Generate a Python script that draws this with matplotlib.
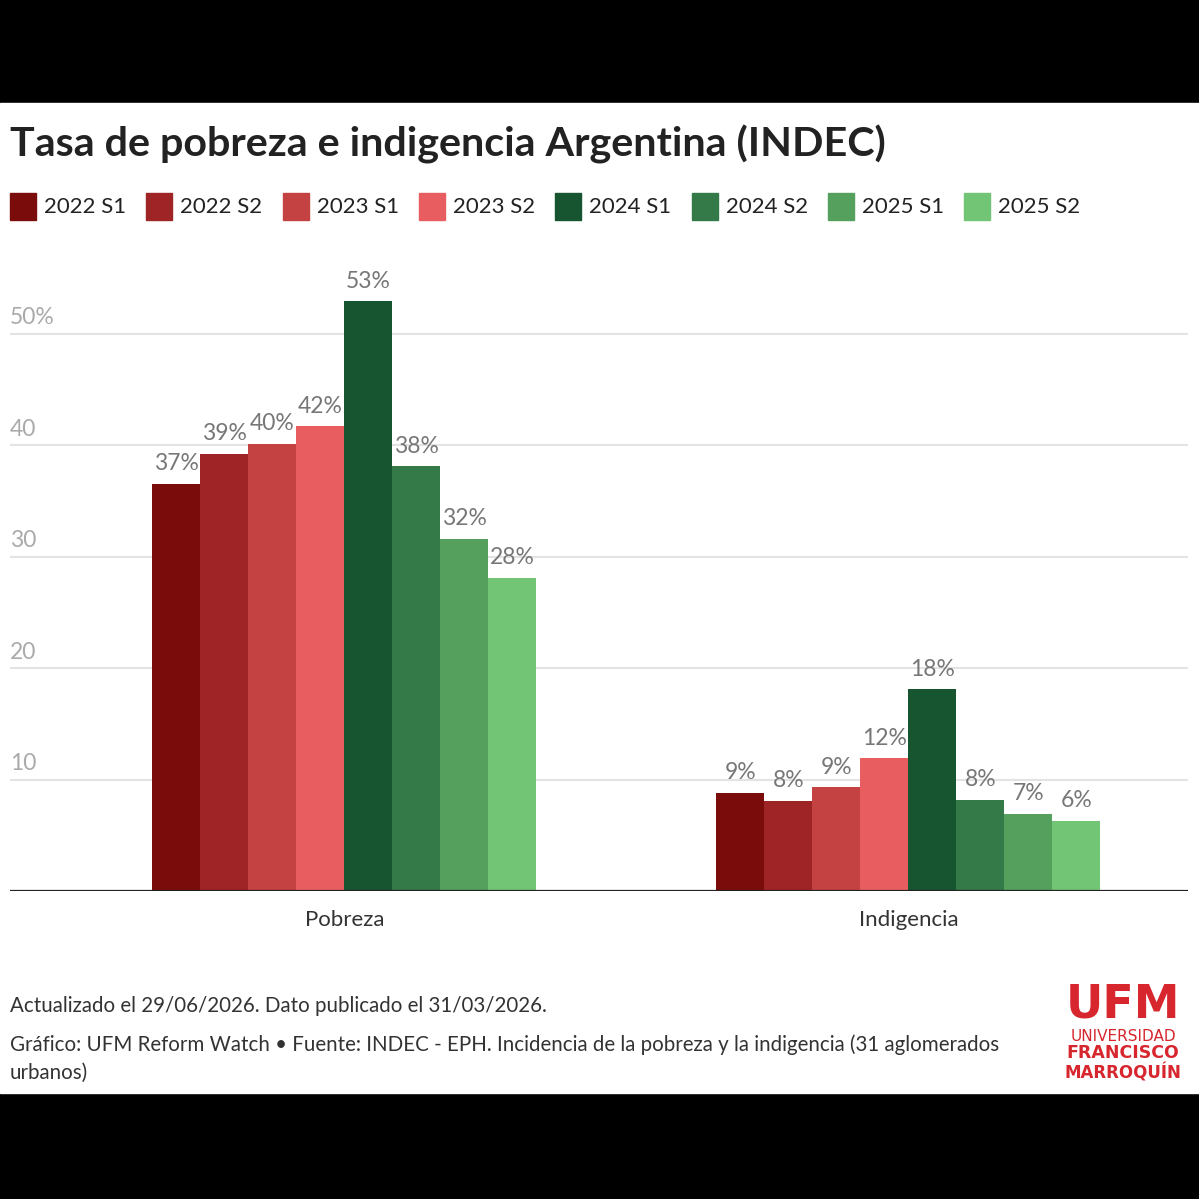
import math
import numpy as np
import matplotlib
matplotlib.use("Agg")
import matplotlib.pyplot as plt
from matplotlib.patches import Rectangle

plt.rcParams['font.family'] = ['Lato', 'DejaVu Sans']

# datos (INDEC, % de personas)
categorias = ['Pobreza', 'Indigencia']
periodos = ['2022 S1', '2022 S2', '2023 S1', '2023 S2',
            '2024 S1', '2024 S2', '2025 S1', '2025 S2']
pobreza = [36.5, 39.2, 40.1, 41.7, 52.9, 38.1, 31.6, 28.1]
indigencia = [8.8, 8.1, 9.3, 11.9, 18.1, 8.2, 6.9, 6.3]
colores = ['#7b0c0c', '#9e2426', '#c44242', '#e85e60',
           '#175430', '#337a48', '#55a05d', '#72c574']
yticks = [10, 20, 30, 40, 50]
ytick_labels = ['10', '20', '30', '40', '50%']

W = H = 1199
fig = plt.figure(figsize=(W / 100, H / 100), dpi=100, facecolor='black')


def fx(px):
    return px / W


def fy(py):
    return 1 - py / H


# banda blanca
fig.patches.append(Rectangle((0, fy(1093)), 1, fy(103) - fy(1093),
                             transform=fig.transFigure, color='white', zorder=-5))

# ejes
ax = fig.add_axes([fx(10), fy(891), fx(1188) - fx(10), fy(278) - fy(891)])
ax.set_zorder(2)
ax.set_facecolor('white')
ax.set_ylim(0, 55)
ax.set_xlim(-0.593, 1.4956)
for s in ax.spines.values():
    s.set_visible(False)

w = 0.0851
x = np.arange(len(categorias))
for i, (p, c) in enumerate(zip(periodos, colores)):
    vals = [pobreza[i], indigencia[i]]
    pos = x + (i - 3.5) * w
    ax.bar(pos, vals, width=w, color=c, zorder=3, linewidth=0)
    for xp, v in zip(pos, vals):
        ax.annotate(f'{math.floor(v + 0.5)}%', (xp, v), xytext=(0, 7),
                    textcoords='offset points', ha='center', va='bottom',
                    fontsize=16.5, color='#777777', zorder=4)

ax.set_yticks(yticks)
ax.set_yticklabels([])
ax.tick_params(axis='y', length=0)
ax.yaxis.grid(True, color='#e3e3e3', lw=1.5, zorder=0)
ax.set_axisbelow(True)
for t, lab in zip(yticks, ytick_labels):
    ax.annotate(lab, (0, t), xycoords=('axes fraction', 'data'), xytext=(0, 4),
                textcoords='offset points', ha='left', va='bottom',
                fontsize=16.5, color='#aaaaaa')
ax.axhline(0, color='#222222', lw=1.6, zorder=5)

ax.set_xticks(x)
ax.set_xticklabels(categorias, fontsize=16, color='#333333')
ax.tick_params(axis='x', length=0, pad=14)

# titulo
fig.text(fx(10), fy(144), 'Tasa de pobreza e indigencia Argentina (INDEC)',
         fontsize=29.7, fontweight='bold', color='#222222', ha='left', va='center')

# leyenda
for i, (p, c) in enumerate(zip(periodos, colores)):
    x0 = 10 + i * 136.3
    fig.patches.append(Rectangle((fx(x0), fy(220)), fx(26), fy(193) - fy(220),
                                 transform=fig.transFigure, color=c))
    fig.text(fx(x0 + 34), fy(207), p, fontsize=16, color='#222222',
             ha='left', va='center')

# pie
fig.text(fx(10), fy(1006), 'Actualizado el 29/06/2026. Dato publicado el 31/03/2026.',
         fontsize=14.8, color='#333333', ha='left', va='center')
fig.text(fx(10), fy(1045),
         'Gráfico: UFM Reform Watch • Fuente: INDEC - EPH. Incidencia de la pobreza y la indigencia (31 aglomerados',
         fontsize=14.8, color='#333333', ha='left', va='center')
fig.text(fx(10), fy(1073), 'urbanos)', fontsize=14.8, color='#333333',
         ha='left', va='center')

# logo
rojo = '#d7262e'
logo_font = 'DejaVu Sans'
fig.text(fx(1123), fy(1018), 'UFM', fontsize=33, fontweight='bold', color=rojo,
         ha='center', va='baseline', family=logo_font)
fig.text(fx(1123), fy(1041), 'UNIVERSIDAD', fontsize=11, color=rojo,
         ha='center', va='baseline', family=logo_font)
fig.text(fx(1123), fy(1058.5), 'FRANCISCO', fontsize=12.5, fontweight='bold',
         color=rojo, ha='center', va='baseline', family=logo_font)
fig.text(fx(1123), fy(1078.5), 'MARROQUÍN', fontsize=12, fontweight='bold',
         color=rojo, ha='center', va='baseline', family=logo_font)

fig.savefig('out.png', dpi=100, facecolor='black')
